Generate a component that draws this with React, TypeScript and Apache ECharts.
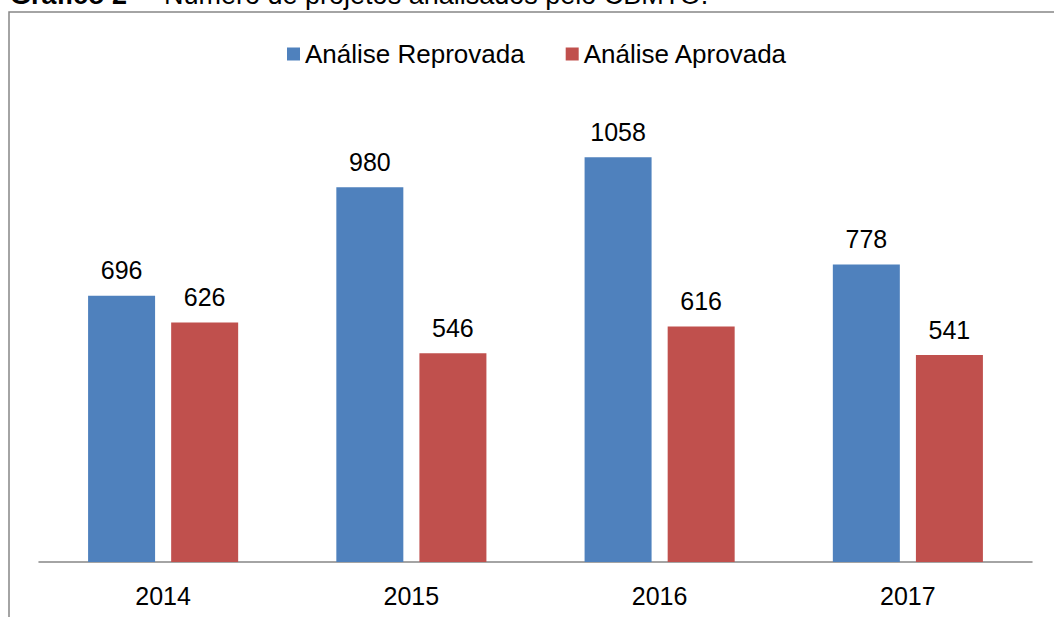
import React, { useEffect, useRef } from "react";
import * as echarts from "echarts";

const categories = ["2014", "2015", "2016", "2017"];
const reprovada = [696, 980, 1058, 778];
const aprovada = [626, 546, 616, 541];
const seriesNames = ["Análise Reprovada", "Análise Aprovada"];
const titleBold = "Gráfico 2";
const titleRest = "–  Número de projetos analisados pelo CBMTO.";

const FONT = "'Liberation Sans', Arial, sans-serif";

export default function App() {
  const ref = useRef<HTMLDivElement>(null);
  useEffect(() => {
    if (!ref.current) return;
    const chart = echarts.init(ref.current, undefined, { renderer: "svg" });
    const label = {
      show: true,
      position: "top",
      distance: 13,
      fontSize: 25,
      color: "#000",
      fontFamily: FONT,
    };
    chart.setOption({
      animation: false,
      backgroundColor: "#fff",
      textStyle: { fontFamily: FONT },
      legend: {
        data: seriesNames,
        left: 282,
        top: 36,
        itemWidth: 13,
        itemHeight: 13,
        itemGap: 41,
        icon: "rect",
        textStyle: { fontSize: 26, color: "#000", fontFamily: FONT, padding: [0, 0, 0, 0] },
      },
      grid: { left: 39, right: 22, top: 103, bottom: 55 },
      xAxis: {
        type: "category",
        data: categories,
        axisLine: { lineStyle: { color: "#868686", width: 1.5 } },
        axisTick: { show: false },
        axisLabel: { fontSize: 25, color: "#000", margin: 21, fontFamily: FONT },
      },
      yAxis: {
        type: "value",
        min: 0,
        max: 1200,
        show: false,
        splitLine: { show: false },
      },
      series: [
        {
          name: seriesNames[0],
          type: "bar",
          data: reprovada,
          barWidth: 67,
          barGap: "24%",
          itemStyle: { color: "#4F81BD" },
          label,
        },
        {
          name: seriesNames[1],
          type: "bar",
          data: aprovada,
          barWidth: 67,
          barGap: "24%",
          itemStyle: { color: "#C0504D" },
          label,
        },
      ],
      graphic: [
        {
          type: "polyline",
          silent: true,
          shape: { points: [[9, 617], [9, 12], [1054, 12]] },
          style: { stroke: "#868686", lineWidth: 1.5, fill: null },
        },
        {
          type: "text",
          x: 10,
          y: -5,
          style: {
            text: titleBold,
            font: `bold 27px ${FONT}`,
            fill: "#000",
            verticalAlign: "middle",
          },
        },
        {
          type: "text",
          x: 134,
          y: -5,
          style: {
            text: titleRest,
            font: `27px ${FONT}`,
            fill: "#000",
            verticalAlign: "middle",
          },
        },
      ],
    });
    return () => chart.dispose();
  }, []);
  return (
    <div
      ref={ref}
      style={{ position: "fixed", left: 0, top: 0, width: 1054, height: 617, background: "#fff" }}
    />
  );
}
